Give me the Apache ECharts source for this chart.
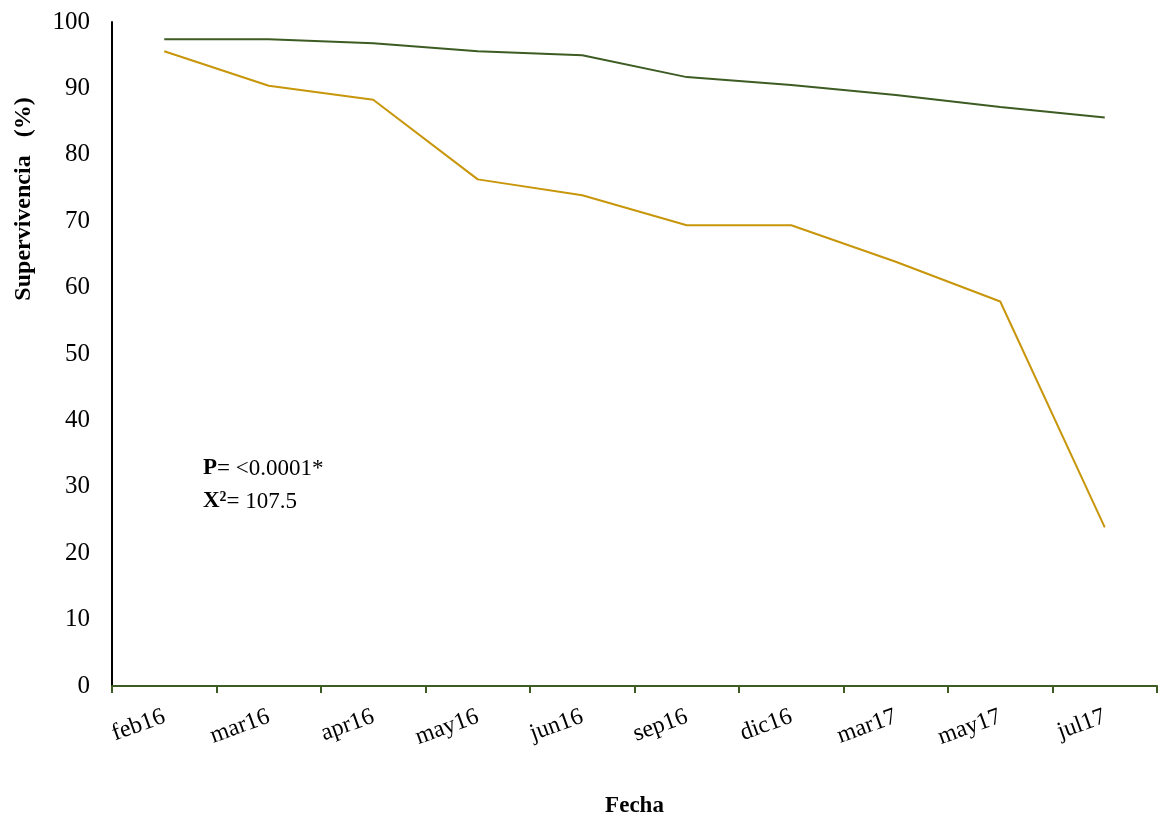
<!DOCTYPE html>
<html>
<head>
<meta charset="utf-8">
<script src="https://cdn.jsdelivr.net/npm/echarts@6/dist/echarts.min.js"></script>
<style>
  html, body { margin: 0; padding: 0; background: #fff; }
  #chart { width: 1158px; height: 820px; }
</style>
</head>
<body>
<div id="chart"></div>
<script>
// Survival (%) by sampling date
const fechas = ['feb16', 'mar16', 'apr16', 'may16', 'jun16', 'sep16', 'dic16', 'mar17', 'may17', 'jul17'];
const serieVerde = [97.4, 97.4, 96.8, 95.6, 95.0, 91.7, 90.5, 89.0, 87.2, 85.6];
const serieOcre = [95.6, 90.4, 88.3, 76.3, 73.9, 69.4, 69.4, 63.9, 57.9, 23.9];
const yTicks = { min: 0, max: 100, interval: 10 };

const serif = '"Liberation Serif", "DejaVu Serif", serif';
const chart = echarts.init(document.getElementById('chart'), null, { renderer: 'canvas' });

chart.setOption({
  animation: false,
  backgroundColor: '#fff',
  grid: { left: 112, right: 1, top: 22, bottom: 134, outerBoundsMode: 'none', containLabel: false },
  xAxis: {
    type: 'category',
    data: fechas,
    boundaryGap: true,
    name: 'Fecha',
    nameLocation: 'middle',
    nameGap: 109,
    nameTextStyle: { fontFamily: serif, fontSize: 23, fontWeight: 'bold', color: '#000' },
    axisLine: { lineStyle: { color: '#3d5c23', width: 2 } },
    axisTick: { show: true, length: 7, lineStyle: { color: '#3d5c23', width: 2 }, alignWithLabel: false },
    axisLabel: { rotate: 20, margin: 30, fontFamily: serif, fontSize: 24, color: '#000', interval: 0 },
    splitLine: { show: false }
  },
  yAxis: {
    type: 'value',
    min: yTicks.min,
    max: yTicks.max,
    interval: yTicks.interval,
    axisLine: { show: true, lineStyle: { color: '#000', width: 2 } },
    axisTick: { show: false },
    axisLabel: { margin: 22, fontFamily: serif, fontSize: 25, color: '#000' },
    splitLine: { show: false }
  },
  graphic: [
    {
      type: 'text',
      x: 24, y: 199,
      rotation: Math.PI / 2,
      style: {
        text: 'Supervivencia   (%)',
        fontFamily: serif, fontSize: 24, fontWeight: 'bold', fill: '#000',
        align: 'center', verticalAlign: 'middle'
      }
    },
    {
      type: 'text',
      x: 203, y: 452,
      style: {
        text: '{b|P}{n|= <0.0001*}\n{b|X²}{n|= 107.5}',
        fontFamily: serif,
        verticalAlign: 'top',
        lineHeight: 33,
        rich: {
          b: { fontFamily: serif, fontSize: 23, fontWeight: 'bold', fill: '#000', lineHeight: 33 },
          n: { fontFamily: serif, fontSize: 23, fill: '#000', lineHeight: 33 }
        }
      }
    }
  ],
  series: [
    {
      type: 'line',
      data: serieVerde,
      showSymbol: false,
      symbol: 'none',
      lineStyle: { color: '#3d5c23', width: 2 },
      itemStyle: { color: '#3d5c23' }
    },
    {
      type: 'line',
      data: serieOcre,
      showSymbol: false,
      symbol: 'none',
      lineStyle: { color: '#c8960a', width: 2 },
      itemStyle: { color: '#c8960a' }
    }
  ]
});
</script>
</body>
</html>
